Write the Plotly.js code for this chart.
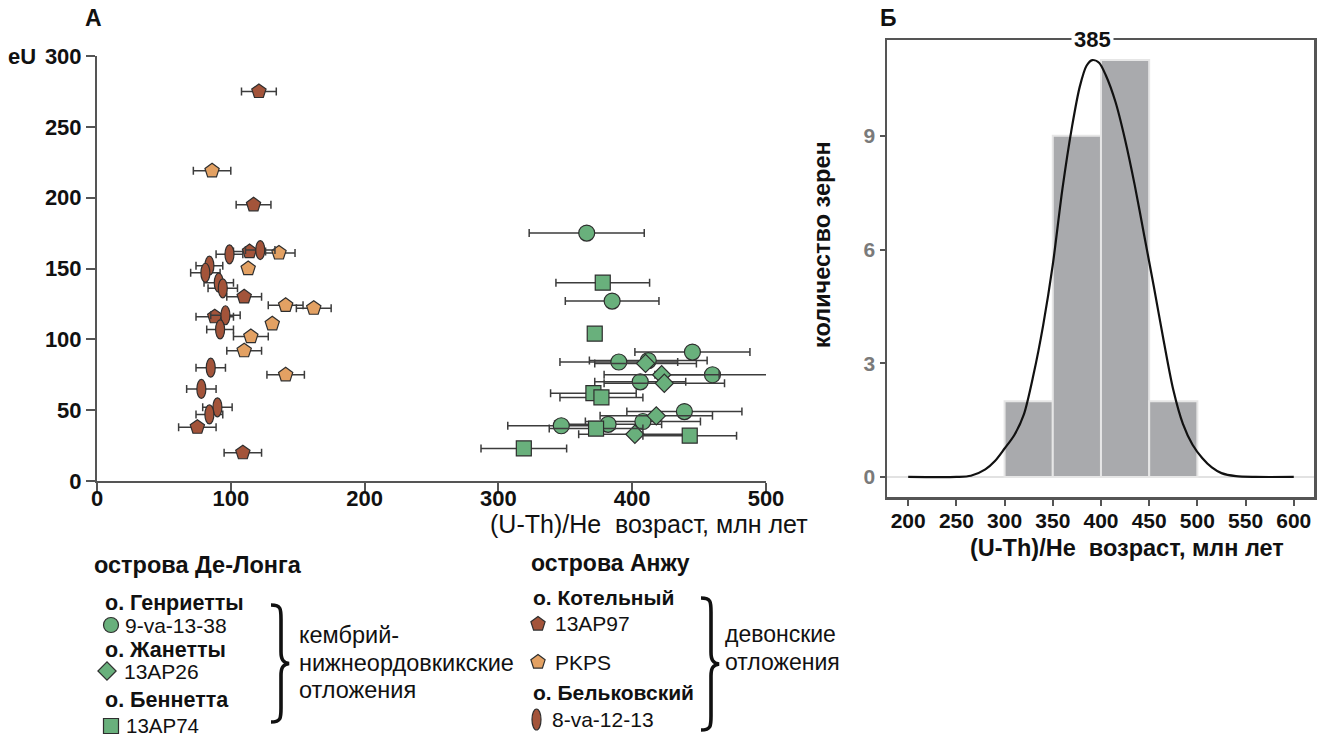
<!DOCTYPE html>
<html>
<head>
<meta charset="utf-8">
<script src="https://cdn.plot.ly/plotly-3.0.1.min.js"></script>
<style>
  html, body { margin: 0; padding: 0; background: #fff; }
  #chart { width: 1333px; height: 738px; }
</style>
</head>
<body>
<div id="chart"></div>
<script>
// ---- Panel A: eU vs (U-Th)/He age, Ma (x = age, y = eU, ex = ±1σ age) ----
// De Long islands (Cambrian – Lower Ordovician)
const henrietteAge = [366, 385, 445, 390, 412, 460, 406, 439, 408, 347, 382];
const henrietteEU  = [175, 127, 91, 84, 85, 75, 70, 49, 42, 39, 40];
const henrietteErr = [43, 35, 43, 44, 44, 43, 34, 43, 43, 40, 40];

const jeannetteAge = [410, 422, 424, 418, 402];
const jeannetteEU  = [83, 75, 69, 46, 33];
const jeannetteErr = [38, 43, 45, 42, 42];

const bennettAge = [378, 372, 371, 377, 373, 443, 319];
const bennettEU  = [140, 104, 62, 59, 37, 32, 23];
const bennettErr = [35, 0, 32, 31, 35, 35, 32];

// Anjou islands (Devonian)
const kotelny97Age = [121, 117, 114, 110, 88, 75, 109];
const kotelny97EU  = [275, 195, 162, 130, 116, 38, 20];
const kotelny97Err = [13, 13, 12, 13, 14, 14, 14];

const pkpsAge = [86, 136, 113, 141, 162, 131, 115, 110, 141];
const pkpsEU  = [219, 161, 150, 124, 122, 111, 102, 92, 75];
const pkpsErr = [14, 12, 0, 13, 13, 0, 13, 13, 14];

const belkovAge = [99, 122, 84, 81, 91, 94, 96, 92, 85, 78, 90, 84];
const belkovEU  = [160, 163, 152, 147, 140, 136, 117, 107, 80, 65, 52, 47];
const belkovErr = [10, 11, 10, 11, 11, 11, 11, 10, 11, 11, 11, 10];

const ageTicksA = [0, 100, 200, 300, 400, 500];
const euTicks   = [0, 50, 100, 150, 200, 250, 300];

// ---- Panel Б: histogram of grain ages with density curve ----
const binCenters = [325, 375, 425, 475];
const binCounts  = [2, 9, 11, 2];
const kdeAge = [200, 250, 265, 280, 290, 300, 310, 320, 330, 340, 350, 360, 370, 378, 385, 391,
                398, 405, 415, 425, 435, 445, 455, 465, 475, 485, 495, 505, 515, 525, 540, 560, 600];
const kdeCount = [0, 0, 0.03, 0.2, 0.42, 0.75, 1.1, 1.65, 2.7, 4.0, 5.6, 7.6, 9.25, 10.3, 10.85, 11.0,
                  10.93, 10.6, 9.9, 8.9, 7.7, 6.35, 5.0, 3.6, 2.3, 1.4, 0.85, 0.5, 0.25, 0.1, 0.02, 0, 0];
const ageTicksB   = [200, 250, 300, 350, 400, 450, 500, 550, 600];
const countTicks  = [0, 3, 6, 9];
const peakLabel   = '385';

// ---- styling ----
const FONT = 'Liberation Sans, Arial, Helvetica, sans-serif';
const W = 1333, H = 738;
const GREEN = '#69B07C', BROWN = '#A3543A', ORANGE = '#E3A163', EDGE = '#2e2e2e';
const AXIS = '#555555';

const errStyle = (arr) => ({ type: 'data', array: arr, visible: true, color: '#3c3c3c', thickness: 1.5, width: 4 });
const mk = (symbol, color, size) => ({ symbol: symbol, color: color, size: size, opacity: 1, line: { color: EDGE, width: 1.2 } });

const traces = [
  { x: pkpsAge, y: pkpsEU, error_x: errStyle(pkpsErr), mode: 'markers', marker: mk('pentagon', ORANGE, 15), xaxis: 'x', yaxis: 'y', name: 'PKPS' },
  { x: kotelny97Age, y: kotelny97EU, error_x: errStyle(kotelny97Err), mode: 'markers', marker: mk('pentagon', BROWN, 15), xaxis: 'x', yaxis: 'y', name: '13AP97' },
  // error bars for the ellipse samples; the ellipses themselves are shapes below
  { x: belkovAge, y: belkovEU, error_x: errStyle(belkovErr), mode: 'markers', marker: { size: 2, opacity: 0 }, xaxis: 'x', yaxis: 'y', name: '8-va-12-13' },
  { x: henrietteAge, y: henrietteEU, error_x: errStyle(henrietteErr), mode: 'markers', marker: mk('circle', GREEN, 16), xaxis: 'x', yaxis: 'y', name: '9-va-13-38' },
  { x: jeannetteAge, y: jeannetteEU, error_x: errStyle(jeannetteErr), mode: 'markers', marker: mk('diamond', GREEN, 14), xaxis: 'x', yaxis: 'y', name: '13AP26' },
  { x: bennettAge, y: bennettEU, error_x: errStyle(bennettErr), mode: 'markers', marker: mk('square', GREEN, 15), xaxis: 'x', yaxis: 'y', name: '13AP74' },

  { type: 'bar', x: binCenters, y: binCounts, width: 50, marker: { color: '#A9AAAD', line: { color: '#E6E6E6', width: 2 } }, xaxis: 'x2', yaxis: 'y2', name: 'hist' },
  { x: kdeAge, y: kdeCount, mode: 'lines', line: { color: '#111', width: 2.2, shape: 'spline', smoothing: 0.8 }, xaxis: 'x2', yaxis: 'y2', name: 'density' }
];

// key symbols of the sample list (page pixel frame x3/y3)
const keyX = [111, 107, 111, 538, 538];
const keyY = [625, 671, 726, 624, 662];
traces.push({
  x: keyX, y: keyY, mode: 'markers', xaxis: 'x3', yaxis: 'y3', hoverinfo: 'skip', opacity: 1,
  marker: {
    symbol: ['circle', 'diamond', 'square', 'pentagon', 'pentagon'],
    size: [15, 14, 15, 15, 15], opacity: 1,
    color: [GREEN, GREEN, GREEN, BROWN, ORANGE],
    line: { color: EDGE, width: 1.2 }
  }
});

const shapes = belkovAge.map((a, i) => ({
  type: 'circle', xref: 'x', yref: 'y', xsizemode: 'pixel', ysizemode: 'pixel',
  xanchor: a, yanchor: belkovEU[i], x0: -4.5, x1: 4.5, y0: -9.5, y1: 9.5,
  fillcolor: BROWN, line: { color: EDGE, width: 1.2 }, layer: 'above'
}));
// ellipse key
shapes.push({ type: 'circle', xref: 'x3', yref: 'y3', x0: 532, x1: 541, y0: 709, y1: 730,
  fillcolor: BROWN, line: { color: EDGE, width: 1.2 } });
// curly braces
const brace = (x, top, bot, tip) => {
  const mid = (top + bot) / 2, s = x + 10;
  return `M ${x} ${top} C ${s} ${top}, ${s} ${top + 4}, ${s} ${top + 14} L ${s} ${mid - 12} ` +
         `C ${s} ${mid - 4}, ${s + 2} ${mid - 1}, ${tip} ${mid} C ${s + 2} ${mid + 1}, ${s} ${mid + 4}, ${s} ${mid + 12} ` +
         `L ${s} ${bot - 14} C ${s} ${bot - 4}, ${s} ${bot}, ${x} ${bot}`;
};
shapes.push({ type: 'path', xref: 'x3', yref: 'y3', path: brace(271, 605, 722, 289), line: { color: '#111', width: 3.6 } });
shapes.push({ type: 'path', xref: 'x3', yref: 'y3', path: brace(701, 598, 730, 719), line: { color: '#111', width: 3.6 } });

const txt = (x, y, text, size, bold, extra) => Object.assign({
  xref: 'x3', yref: 'y3', x: x, y: y, text: text, showarrow: false,
  xanchor: 'left', yanchor: 'middle',
  font: { family: FONT, size: size, color: '#111', weight: bold ? 700 : 400 }
}, extra || {});

const annotations = [
  txt(83, 18, 'А', 23, true),
  txt(6, 56, 'eU', 22, true),
  txt(810, 524, '(U-Th)/He\u00A0 возраст, млн лет', 25, false, { xanchor: 'right' }),
  txt(878, 18, 'Б', 23, true),
  txt(1092, 39, peakLabel, 22, true, { xanchor: 'center', bgcolor: '#ffffff', borderpad: 2 }),
  txt(822, 245, 'количество зерен', 23.5, true, { xanchor: 'center', textangle: -90 }),
  txt(1127, 548, '(U-Th)/He\u00A0 возраст, млн лет', 23.5, true, { xanchor: 'center' }),

  txt(92, 565, 'острова Де-Лонга', 23.5, true),
  txt(103, 603, 'о. Генриетты', 21.5, true),
  txt(123, 625, '9-va-13-38', 21, false),
  txt(103, 650, 'о. Жанетты', 21.5, true),
  txt(122, 671, '13AP26', 21, false),
  txt(103, 700, 'о. Беннетта', 21.5, true),
  txt(124, 725, '13AP74', 20.5, false),
  txt(297, 635, 'кембрий-', 23.5, false),
  txt(297, 663, 'нижнеордовкикские', 23.5, false),
  txt(297, 690, 'отложения', 23.5, false),

  txt(529, 563, 'острова Анжу', 23, true),
  txt(531, 597, 'о. Котельный', 21, true),
  txt(553, 623, '13AP97', 21, false),
  txt(553, 662, 'PKPS', 21, false),
  txt(531, 692, 'о. Бельковский', 21, true),
  txt(550, 719, '8-va-12-13', 21, false),
  txt(723, 634, 'девонские', 23, false),
  txt(723, 662, 'отложения', 23, false)
];

const baseAxis = {
  showline: true, linecolor: AXIS, linewidth: 2, ticks: 'outside', tickcolor: AXIS, tickwidth: 2,
  showgrid: false, zeroline: false, fixedrange: true, tickmode: 'array'
};

const layout = {
  width: W, height: H, margin: { l: 0, r: 0, t: 0, b: 0, pad: 0 },
  paper_bgcolor: '#ffffff', plot_bgcolor: 'rgba(0,0,0,0)', showlegend: false,
  font: { family: FONT, color: '#111' },
  xaxis: Object.assign({}, baseAxis, {
    domain: [97 / W, 766 / W], range: [0, 500], anchor: 'y', tickvals: ageTicksA, ticklen: 9,
    ticklabelstandoff: -12,
    tickfont: { family: FONT, size: 22, color: '#111', weight: 700 }
  }),
  yaxis: Object.assign({}, baseAxis, {
    domain: [1 - 481 / H, 1 - 56 / H], range: [0, 300], anchor: 'x', tickvals: euTicks, ticklen: 9,
    tickfont: { family: FONT, size: 22, color: '#111', weight: 700 }
  }),
  xaxis2: Object.assign({}, baseAxis, {
    domain: [887 / W, 1314 / W], range: [178, 621], anchor: 'y2', mirror: true, tickvals: ageTicksB, ticklen: 6,
    ticklabelstandoff: -3,
    linewidth: 2.5, tickfont: { family: FONT, size: 21, color: '#111', weight: 700 }
  }),
  yaxis2: Object.assign({}, baseAxis, {
    domain: [1 - 497 / H, 1 - 40 / H], range: [-0.53, 11.53], anchor: 'x2', mirror: true, tickvals: countTicks, ticklen: 5,
    linewidth: 2.5, zeroline: true, zerolinecolor: '#E2E2E2', zerolinewidth: 2,
    tickfont: { family: FONT, size: 21, color: '#7A7A7A', weight: 700 }
  }),
  xaxis3: { domain: [0, 1], range: [0, W], anchor: 'y3', visible: false, fixedrange: true },
  yaxis3: { domain: [0, 1], range: [H, 0], anchor: 'x3', visible: false, fixedrange: true },
  shapes: shapes,
  annotations: annotations
};

Plotly.newPlot('chart', traces, layout, { staticPlot: true, displayModeBar: false });
</script>
</body>
</html>
